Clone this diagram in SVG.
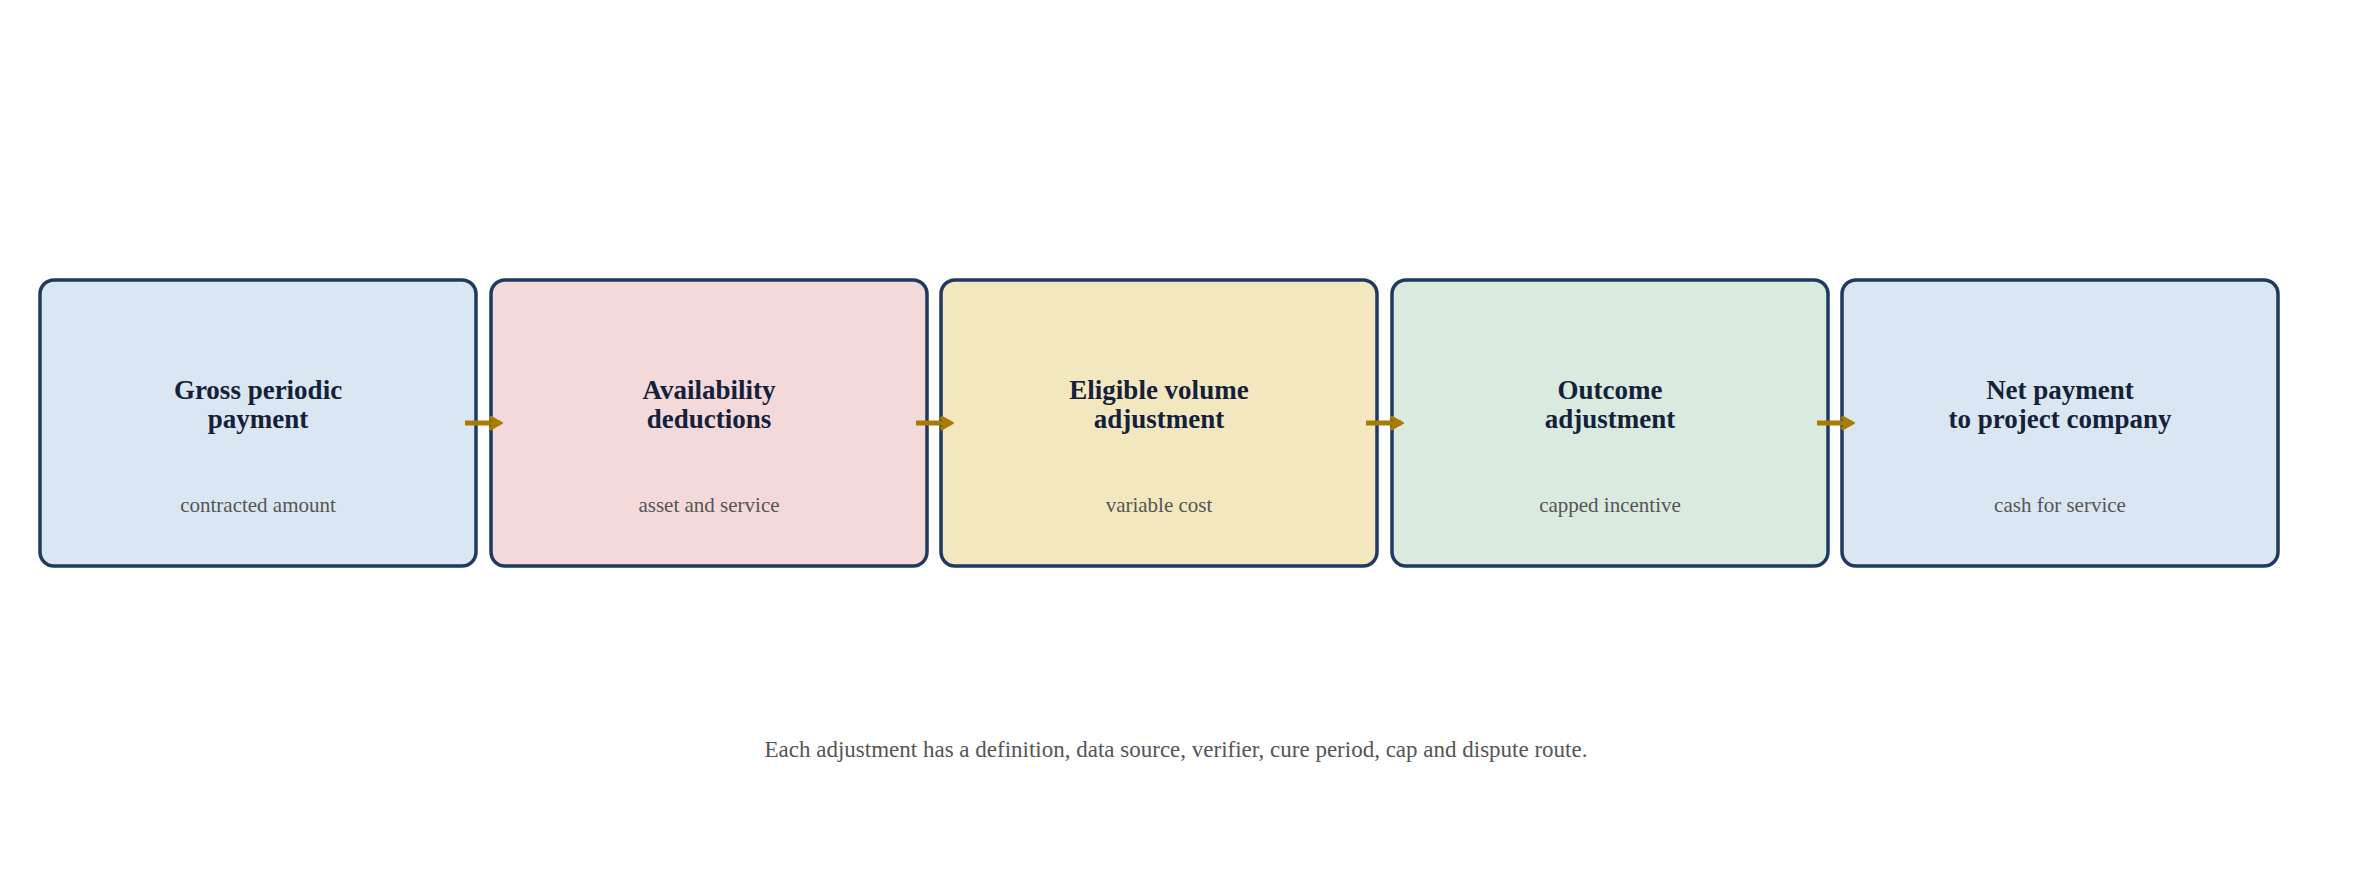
<svg xmlns="http://www.w3.org/2000/svg" width="2354" height="880" viewBox="0 0 2354 880">
<style>
.box{stroke:#1f3a60;stroke-width:3.5}
.t{font-family:"Liberation Serif",serif;font-weight:bold;font-size:27px;fill:#14213a;text-anchor:middle}
.s{font-family:"Liberation Serif",serif;font-size:21px;fill:#555;text-anchor:middle}
.f{font-family:"Liberation Serif",serif;font-size:23px;fill:#555;text-anchor:middle}
.c{stroke:#a87c00;stroke-width:5;fill:none;marker-end:url(#ah)}
</style>
<defs><marker id="ah" viewBox="0 0 10 10" refX="8" refY="5" markerWidth="3" markerHeight="3" orient="auto" markerUnits="strokeWidth"><path d="M1,1 L8,5 L1,9" fill="none" stroke="#a87c00" stroke-width="2.5"/></marker></defs>
<rect width="2354" height="880" fill="#fff"/>
<g id="n1"><rect class="box" x="40" y="280" width="436" height="286" rx="14" fill="#dae6f2"/><text class="t" x="258" y="399">Gross periodic</text><text class="t" x="258" y="428">payment</text><text class="s" x="258" y="512">contracted amount</text></g>
<g id="n2"><rect class="box" x="491" y="280" width="436" height="286" rx="14" fill="#f4d9da"/><text class="t" x="709" y="399">Availability</text><text class="t" x="709" y="428">deductions</text><text class="s" x="709" y="512">asset and service</text></g>
<g id="n3"><rect class="box" x="941" y="280" width="436" height="286" rx="14" fill="#f3e7c0"/><text class="t" x="1159" y="399">Eligible volume</text><text class="t" x="1159" y="428">adjustment</text><text class="s" x="1159" y="512">variable cost</text></g>
<g id="n4"><rect class="box" x="1392" y="280" width="436" height="286" rx="14" fill="#dbeadf"/><text class="t" x="1610" y="399">Outcome</text><text class="t" x="1610" y="428">adjustment</text><text class="s" x="1610" y="512">capped incentive</text></g>
<g id="n5"><rect class="box" x="1842" y="280" width="436" height="286" rx="14" fill="#dae6f2"/><text class="t" x="2060" y="399">Net payment</text><text class="t" x="2060" y="428">to project company</text><text class="s" x="2060" y="512">cash for service</text></g>
<g id="connectors">
<line class="c" x1="465" y1="423" x2="500" y2="423"/>
<line class="c" x1="916" y1="423" x2="951" y2="423"/>
<line class="c" x1="1366" y1="423" x2="1401" y2="423"/>
<line class="c" x1="1817" y1="423" x2="1852" y2="423"/>
</g>
<text class="f" x="1176" y="757">Each adjustment has a definition, data source, verifier, cure period, cap and dispute route.</text>
</svg>
